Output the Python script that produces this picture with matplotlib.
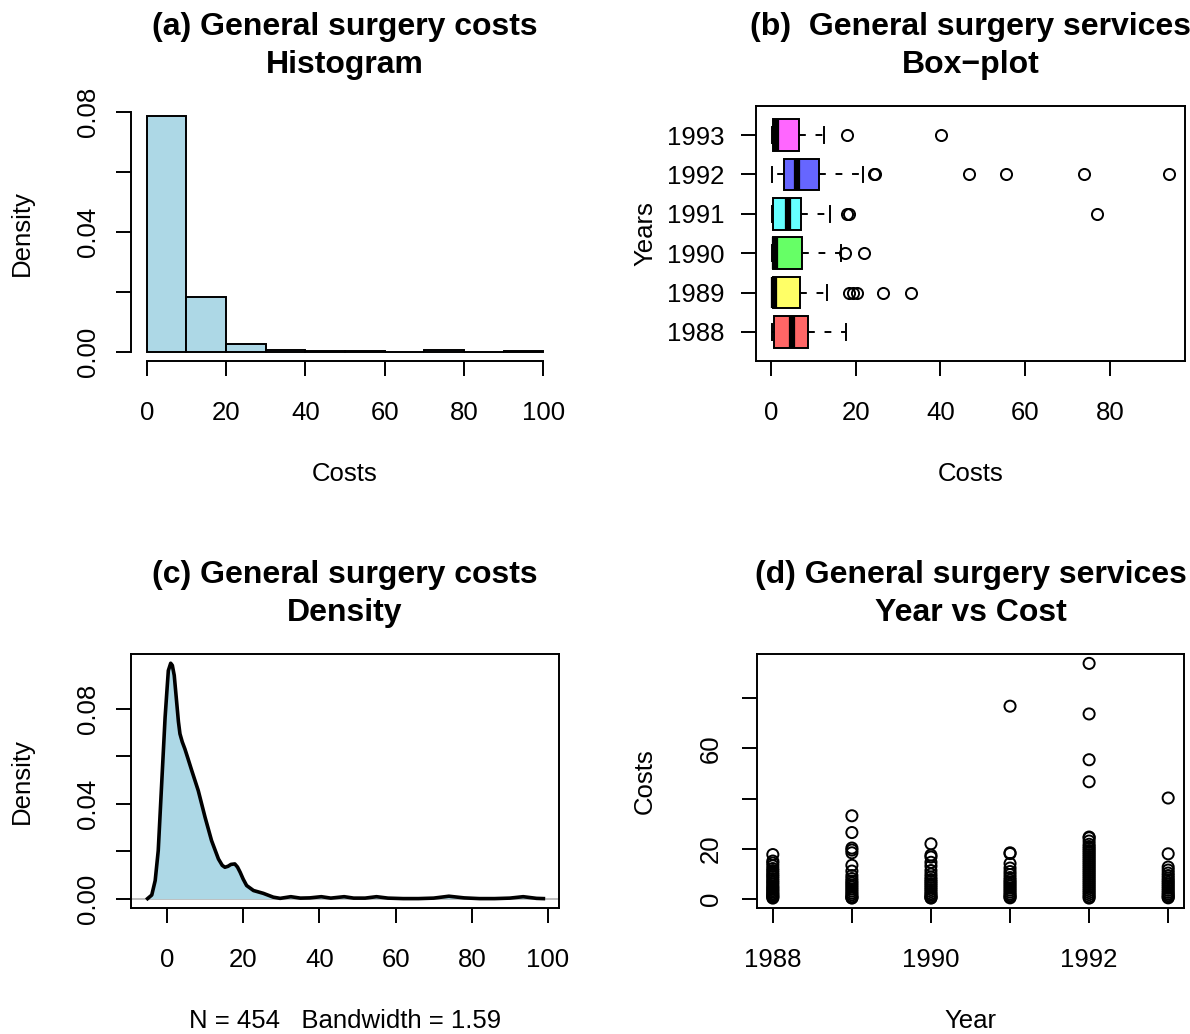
import numpy as np
import matplotlib
matplotlib.use('Agg')
import matplotlib.pyplot as plt

plt.rcParams['font.family'] = ['Liberation Sans', 'DejaVu Sans']

# (a) histogram of costs (density per 10-unit bin)
hist_edges = [0, 10, 20, 30, 40, 50, 60, 70, 80, 90, 100]
hist_density = [0.0787, 0.0182, 0.0024, 0.0004, 0.0002, 0.0002, 0.0, 0.0004, 0.0, 0.0002]

# (b) box-plot statistics per year
years = ['1988', '1989', '1990', '1991', '1992', '1993']
box_colors = ['#FF6666', '#FFFF66', '#66FF66', '#66FFFF', '#6666FF', '#FF66FF']
box_whislo = [0.2, 0.2, 0.2, 0.3, 0.2, 0.3]
box_q1 = [0.7, 0.4, 0.4, 0.5, 3.1, 0.5]
box_med = [5.0, 0.7, 0.9, 4.1, 6.2, 1.1]
box_q3 = [8.8, 6.9, 7.3, 7.1, 11.4, 6.7]
box_whishi = [17.6, 13.3, 16.6, 14.0, 21.7, 12.6]
box_fliers = [[], [18.3, 19.4, 20.2, 26.4, 33.1], [17.4, 21.9],
              [18.0, 18.3, 76.9], [24.3, 24.6, 46.7, 55.5, 73.8, 94.0], [17.9, 40.2]]

# (c) kernel density curve
dens_x = [-5.1, -4.0, -3.1, -2.3, -1.4, -0.5, 0.0, 0.35, 0.97, 1.4, 1.9, 2.5, 3.0, 3.4, 4.0,
          4.7, 5.5, 6.5, 8.2, 10.0, 11.7, 13.5, 14.5, 15.2, 16.0, 16.8, 17.8, 18.5, 19.2,
          20.0, 20.9, 22.7, 25.3, 27.9, 29.7, 32.5, 35.0, 37.5, 40.5, 43.0, 46.5, 49.0,
          52.0, 55.0, 58.0, 62.0, 66.0, 70.0, 74.0, 78.0, 82.0, 86.0, 90.0, 93.5, 97.0, 98.8]
dens_y = [0.0, 0.0015, 0.0076, 0.0202, 0.0483, 0.0763, 0.0880, 0.0960, 0.0991, 0.0982, 0.0940,
          0.0834, 0.0745, 0.0694, 0.0660, 0.0630, 0.0590, 0.0539, 0.0455, 0.0342, 0.0244,
          0.0167, 0.0140, 0.0132, 0.0136, 0.0144, 0.0146, 0.0133, 0.0111, 0.0082, 0.0055,
          0.0034, 0.0022, 0.0006, 0.0001, 0.0008, 0.0002, 0.0003, 0.0008, 0.0002, 0.0008,
          0.0002, 0.0002, 0.0008, 0.0002, 0.0, 0.0, 0.0002, 0.0010, 0.0003, 0.0, 0.0, 0.0002,
          0.0008, 0.0001, 0.0]

# (d) costs by year
cost_1988 = [17.6, 15.0, 14.2, 13.1, 12.0, 11.2, 10.3, 9.5, 8.8, 8.0, 7.2, 6.5, 5.8, 5.0,
             4.4, 3.8, 3.2, 2.6, 2.0, 1.5, 1.0, 0.6, 0.2]
cost_1989 = [33.1, 26.4, 20.2, 19.4, 18.3, 13.3, 11.0, 9.2, 8.0, 7.0, 6.2, 5.4, 4.6, 3.8,
             3.0, 2.2, 1.5, 0.8, 0.4, 0.2]
cost_1990 = [21.9, 17.4, 16.6, 14.5, 13.0, 11.2, 9.8, 8.6, 7.6, 6.8, 6.0, 5.2, 4.4, 3.6,
             2.8, 2.0, 1.4, 0.8, 0.4, 0.2]
cost_1991 = [76.9, 18.3, 18.0, 14.0, 12.2, 10.8, 9.6, 8.4, 7.4, 6.6, 5.8, 5.0, 4.2, 3.4,
             2.6, 1.8, 1.2, 0.6, 0.3]
cost_1992 = [94.0, 73.8, 55.5, 46.7, 24.6, 24.3, 23.0, 21.7, 20.8, 20.0, 19.2, 18.4, 17.6,
             16.8, 16.0, 15.2, 14.4, 13.6, 12.8, 12.0, 11.2, 10.4, 9.6, 8.8, 8.0, 7.2, 6.4,
             5.6, 4.8, 4.0, 3.2, 2.4, 1.6, 0.8, 0.2]
cost_1993 = [40.2, 17.9, 12.6, 11.4, 10.2, 9.2, 8.2, 7.3, 6.5, 5.7, 4.9, 4.1, 3.3, 2.5,
             1.8, 1.2, 0.6, 0.3]
costs_by_year = [cost_1988, cost_1989, cost_1990, cost_1991, cost_1992, cost_1993]

W, H = 1190, 1034
FS = 18.5
TFS = 23
LW = 1.4

fig = plt.figure(figsize=(W / 100, H / 100), dpi=100)


def add_ax(left, top, right, bottom):
    return fig.add_axes([left / W, 1 - bottom / H, (right - left) / W, (bottom - top) / H])


def style(ax, ylab_rot=True, ypad=13.5):
    for s in ax.spines.values():
        s.set_linewidth(LW)
    ax.tick_params(axis='both', labelsize=FS, length=11, width=LW, color='black')
    ax.tick_params(axis='x', pad=17.5)
    if ylab_rot:
        ax.tick_params(axis='y', pad=ypad)
        for lab in ax.get_yticklabels():
            lab.set_rotation(90)
            lab.set_va('center')


def titles(ax, line1, line2):
    ax.annotate(line1, xy=(0.5, 1), xycoords='axes fraction', xytext=(0, 51),
                textcoords='offset points', ha='center', va='baseline',
                fontsize=TFS, fontweight='bold')
    ax.annotate(line2, xy=(0.5, 1), xycoords='axes fraction', xytext=(0, 24),
                textcoords='offset points', ha='center', va='baseline',
                fontsize=TFS, fontweight='bold')


def labels(ax, xl, yl, h, w, yoff=109):
    ax.set_xlabel(xl, fontsize=FS)
    ax.xaxis.label.set_va('center')
    ax.xaxis.set_label_coords(0.5, -113 / h)
    ax.set_ylabel(yl, fontsize=FS)
    ax.yaxis.label.set_va('center')
    ax.yaxis.set_label_coords(-yoff / w, 0.5)


# ---- (a) histogram
ax = add_ax(131, 106, 559, 361)
widths = np.diff(hist_edges)
ax.bar(hist_edges[:-1], hist_density, width=widths, align='edge',
       color='#ADD8E6', edgecolor='black', linewidth=LW)
ax.set_xlim(-4, 104)
ax.set_ylim(-0.00315, 0.0819)
ax.spines['top'].set_visible(False)
ax.spines['right'].set_visible(False)
ax.spines['left'].set_bounds(0, 0.08)
ax.spines['bottom'].set_bounds(0, 100)
ax.set_xticks([0, 20, 40, 60, 80, 100])
ax.set_yticks([0, 0.02, 0.04, 0.06, 0.08])
ax.set_yticklabels(['0.00', '', '0.04', '', '0.08'])
style(ax, ypad=11)
titles(ax, '(a) General surgery costs', 'Histogram')
labels(ax, 'Costs', 'Density', 255, 428)

# ---- (b) box-plot
ax = add_ax(756, 106, 1185, 361)
stats = []
for i in range(len(years)):
    stats.append(dict(whislo=box_whislo[i], q1=box_q1[i], med=box_med[i],
                      q3=box_q3[i], whishi=box_whishi[i], fliers=box_fliers[i]))
bp = ax.bxp(stats, positions=range(1, len(years) + 1), widths=0.8, capwidths=0.4,
            orientation='horizontal', patch_artist=True,
            boxprops=dict(edgecolor='black', linewidth=LW),
            medianprops=dict(color='black', linewidth=4.5, solid_capstyle='butt'),
            whiskerprops=dict(color='black', linewidth=LW, linestyle=(0, (3.5, 5))),
            capprops=dict(color='black', linewidth=LW),
            flierprops=dict(marker='o', markerfacecolor='none', markeredgecolor='black',
                            markersize=8, markeredgewidth=LW))
for patch, c in zip(bp['boxes'], box_colors):
    patch.set_facecolor(c)
ax.set_xlim(-3.55, 97.75)
ax.set_ylim(0.26, 6.74)
ax.set_xticks([0, 20, 40, 60, 80])
ax.set_yticks(range(1, len(years) + 1))
ax.set_yticklabels(years)
style(ax, ylab_rot=False)
ax.tick_params(axis='y', pad=11.5)
titles(ax, '(b)  General surgery services', 'Box\u2212plot')
labels(ax, 'Costs', 'Years', 255, 429, yoff=111)

# ---- (c) density
ax = add_ax(131, 654, 559, 908)
ax.axhline(0, color='#BEBEBE', linewidth=LW, zorder=1)
ax.fill_between(dens_x, dens_y, 0, color='#ADD8E6', linewidth=0, zorder=2)
ax.plot(dens_x, dens_y, color='black', linewidth=2.6, zorder=3, solid_joinstyle='round')
ax.set_xlim(-9.45, 102.9)
ax.set_ylim(-0.00396, 0.103)
ax.set_xticks([0, 20, 40, 60, 80, 100])
ax.set_yticks([0, 0.02, 0.04, 0.06, 0.08])
ax.set_yticklabels(['0.00', '', '0.04', '', '0.08'])
style(ax, ypad=11)
titles(ax, '(c) General surgery costs', 'Density')
labels(ax, 'N = 454   Bandwidth = 1.59', 'Density', 254, 428)

# ---- (d) year vs cost
ax = add_ax(757, 654, 1184, 908)
for yr, vals in zip(years, costs_by_year):
    ax.scatter([int(yr)] * len(vals), vals, s=64, facecolors='none',
               edgecolors='black', linewidths=LW, zorder=3)
ax.set_xlim(1987.8, 1993.2)
ax.set_ylim(-3.76, 97.76)
ax.set_xticks([int(y) for y in years])
ax.set_xticklabels(['1988', '', '1990', '', '1992', ''])
ax.set_yticks([0, 20, 40, 60, 80])
ax.set_yticklabels(['0', '20', '', '60', ''])
style(ax)
titles(ax, '(d) General surgery services', 'Year vs Cost')
labels(ax, 'Year', 'Costs', 254, 427, yoff=112)

fig.savefig('out.png', dpi=100)
